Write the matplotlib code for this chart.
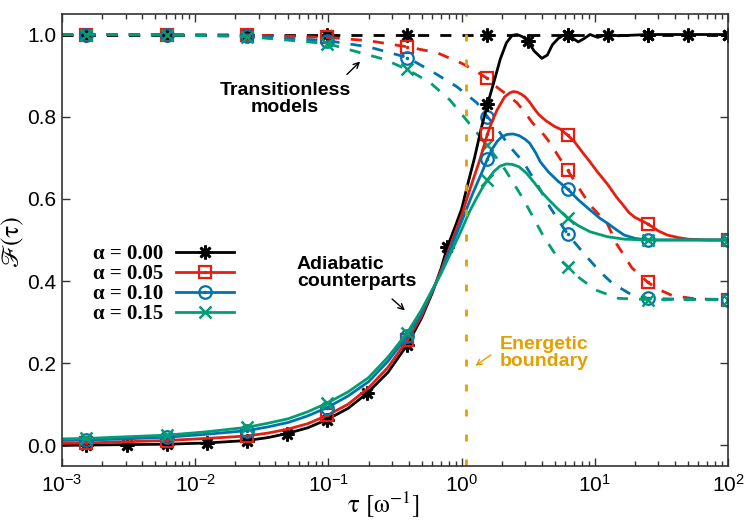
import numpy as np
import matplotlib
matplotlib.use("Agg")
import matplotlib.pyplot as plt

# tau values where markers sit (every factor of 4, black solid every factor of 2)
tau_marks = [0.001526, 0.006104, 0.02441, 0.09766, 0.3906, 1.5625, 6.25, 25, 100]
tau_marks_black = [0.001526, 0.003052, 0.006104, 0.01221, 0.02441, 0.04883, 0.09766,
                   0.1953, 0.3906, 0.7813, 1.5625, 3.125, 6.25, 12.5, 25, 50, 100]

# full dynamics (solid)
tau_k = [0.001, 0.001526, 0.003052, 0.006104, 0.01221, 0.02441, 0.035, 0.04883, 0.07,
         0.09766, 0.14, 0.1953, 0.28, 0.3906, 0.5, 0.6, 0.7, 0.7813, 0.9, 1.0, 1.1, 1.25,
         1.4, 1.5625, 1.75, 1.95, 2.17, 2.4, 2.6, 2.85, 3.125, 3.5, 4.0, 4.4, 4.8, 5.3, 5.8,
         6.25, 6.9, 7.5, 8.3, 9.2, 10.5, 11.5, 12.5, 15, 18, 25, 50, 100]
F_k = [0.0, 0.001, 0.002, 0.003, 0.006, 0.012, 0.019, 0.029, 0.043,
       0.063, 0.09, 0.127, 0.178, 0.245, 0.31, 0.37, 0.43, 0.483, 0.535, 0.575, 0.63, 0.70,
       0.77, 0.83, 0.885, 0.94, 0.98, 0.998, 1.0, 0.995, 0.985, 0.96, 0.942, 0.95, 0.975,
       0.99, 0.998, 1.0, 0.99, 0.982, 0.99, 1.0, 0.993, 0.997, 1.0, 0.997, 0.998, 1.0,
       1.0, 1.0]

tau_r = [0.001, 0.001526, 0.003, 0.006104, 0.012, 0.02441, 0.035, 0.05, 0.07, 0.09766,
         0.14, 0.2, 0.28, 0.3906, 0.5, 0.6, 0.7, 0.78, 0.9, 1.0, 1.2, 1.37, 1.5625, 1.7,
         1.85, 2.1, 2.3, 2.44, 2.6, 2.8, 3.0, 3.25, 3.5, 3.8, 4.3, 5.0, 5.5, 6.25, 7.0, 8.0,
         9.2, 10.5, 12.5, 14.5, 16.3, 18, 20, 25, 30, 35, 42, 50, 70, 100]
F_r = [0.005, 0.006, 0.009, 0.012, 0.017, 0.023, 0.03, 0.04, 0.053, 0.073,
       0.1, 0.14, 0.19, 0.256, 0.315, 0.373, 0.425, 0.465, 0.52, 0.56, 0.64, 0.695, 0.758,
       0.79, 0.817, 0.848, 0.858, 0.861, 0.86, 0.855, 0.848, 0.835, 0.82, 0.805, 0.79,
       0.776, 0.77, 0.755, 0.74, 0.715, 0.69, 0.665, 0.635, 0.605, 0.585, 0.567, 0.555,
       0.539, 0.522, 0.512, 0.506, 0.502, 0.5, 0.5]

tau_b = [0.001, 0.001526, 0.003, 0.006104, 0.012, 0.02441, 0.035, 0.05, 0.07, 0.09766,
         0.14, 0.2, 0.28, 0.3906, 0.5, 0.6, 0.7, 0.78, 1.0, 1.2, 1.4, 1.5625, 1.7, 1.85,
         2.0, 2.2, 2.44, 2.7, 3.0, 3.25, 3.6, 3.9, 4.5, 5.3, 6.25, 7.5, 9.2, 11, 12.4, 14.5,
         16.6, 20, 25, 100]
F_b = [0.012, 0.013, 0.016, 0.02, 0.027, 0.036, 0.045, 0.056, 0.072, 0.092,
       0.12, 0.155, 0.205, 0.266, 0.322, 0.376, 0.42, 0.46, 0.545, 0.61, 0.66, 0.697,
       0.722, 0.74, 0.751, 0.757, 0.758, 0.754, 0.745, 0.735, 0.712, 0.69, 0.665, 0.643,
       0.624, 0.598, 0.573, 0.552, 0.541, 0.525, 0.512, 0.504, 0.5, 0.5]

tau_g = [0.001, 0.001526, 0.003, 0.006104, 0.012, 0.02441, 0.035, 0.05, 0.07, 0.09766,
         0.14, 0.2, 0.28, 0.3906, 0.5, 0.6, 0.7, 0.78, 1.0, 1.15, 1.3, 1.45, 1.5625, 1.75,
         1.95, 2.17, 2.4, 2.7, 3.06, 3.5, 3.9, 4.6, 5.3, 6.25, 7.5, 9.2, 12.4, 16.6, 25, 100]
F_g = [0.016, 0.017, 0.021, 0.025, 0.033, 0.044, 0.054, 0.065, 0.082, 0.103,
       0.13, 0.165, 0.215, 0.274, 0.33, 0.378, 0.418, 0.45, 0.525, 0.57, 0.603, 0.63,
       0.646, 0.667, 0.68, 0.685, 0.684, 0.678, 0.663, 0.64, 0.62, 0.595, 0.575, 0.553,
       0.535, 0.52, 0.508, 0.502, 0.5, 0.5]

# transitionless models (dashed)
tau_kd = [0.001, 0.001526, 0.006104, 0.02441, 0.09766, 0.3906, 1.5625, 6.25, 25, 100]
F_kd = [1.0, 1.0, 1.0, 1.0, 1.0, 1.0, 1.0, 1.0, 1.0, 1.0]

tau_rd = [0.001, 0.001526, 0.006104, 0.02441, 0.09766, 0.2, 0.3906, 0.65, 1.0, 1.25,
          1.5625, 1.87, 2.2, 2.6, 3.0, 3.4, 4.0, 4.6, 5.3, 6.25, 7.3, 9.2, 12.4, 14.6, 19,
          25, 30, 38, 53, 70, 100]
F_rd = [1.0, 1.0, 1.0, 0.999, 0.993, 0.985, 0.97, 0.956, 0.93, 0.913,
        0.893, 0.87, 0.853, 0.834, 0.81, 0.785, 0.762, 0.737, 0.705, 0.67, 0.635, 0.585,
        0.54, 0.49, 0.432, 0.397, 0.38, 0.365, 0.358, 0.356, 0.355]

tau_bd = [0.001, 0.001526, 0.006104, 0.02441, 0.09766, 0.2, 0.3906, 0.6, 0.92, 1.3,
          1.5625, 1.8, 2.3, 2.9, 3.7, 4.6, 6.25, 8.7, 11, 13.5, 19, 25, 40, 100]
F_bd = [1.0, 1.0, 0.999, 0.997, 0.985, 0.97, 0.944, 0.91, 0.873, 0.834,
        0.80, 0.776, 0.727, 0.69, 0.635, 0.58, 0.514, 0.459, 0.422, 0.395, 0.366, 0.358,
        0.356, 0.355]

tau_gd = [0.001, 0.001526, 0.006104, 0.02441, 0.09766, 0.26, 0.3906, 0.58, 0.82, 1.08,
          1.5625, 2.13, 2.9, 4.1, 5.2, 6.25, 7.7, 10.2, 15, 25, 100]
F_gd = [1.0, 1.0, 0.999, 0.995, 0.978, 0.94, 0.915, 0.883, 0.84, 0.793,
        0.73, 0.67, 0.6, 0.51, 0.459, 0.435, 0.407, 0.378, 0.358, 0.355, 0.355]

tau_boundary = 1.08
labels = ["α = 0.00", "α = 0.05", "α = 0.10", "α = 0.15"]

BLACK, RED, BLUE, GREEN, ORANGE = "black", "#E51E10", "#0072B2", "#009E73", "#E69F00"


def marks(tau, sel):
    return [i for i, t in enumerate(tau) if np.any(np.isclose(t, sel, rtol=2e-3))]


plt.rcParams["font.family"] = ["Liberation Sans", "DejaVu Sans"]
plt.rcParams["mathtext.fontset"] = "stix"
fig = plt.figure(figsize=(7.5, 5.25), dpi=100)
ax = fig.add_axes([0.0827, 0.1124, 0.888, 0.861])

dash = (4, 4)
lw = 2
mk = dict(ms=9, mew=1.6, mfc="none")

# dashed transitionless curves
ax.plot(tau_kd, F_kd, color=BLACK, lw=lw, dashes=dash, marker=(8, 2, 0), ms=10, mew=1.9,
        markevery=marks(tau_kd, tau_marks))
ax.plot(tau_rd, F_rd, color=RED, lw=lw, dashes=dash, marker="s",
        markevery=marks(tau_rd, tau_marks), **mk)
ax.plot(tau_rd, F_rd, ls="none", color=RED, marker=".", ms=3, markevery=marks(tau_rd, tau_marks))
ax.plot(tau_bd, F_bd, color=BLUE, lw=lw, dashes=dash, marker="o",
        markevery=marks(tau_bd, tau_marks), **mk)
ax.plot(tau_bd, F_bd, ls="none", color=BLUE, marker=".", ms=3, markevery=marks(tau_bd, tau_marks))
ax.plot(tau_gd, F_gd, color=GREEN, lw=lw, dashes=dash, marker="x", ms=9, mew=1.8,
        markevery=marks(tau_gd, tau_marks))

# solid curves
hk, = ax.plot(tau_k, F_k, color=BLACK, lw=lw, marker=(8, 2, 0), ms=10, mew=1.9,
              markevery=marks(tau_k, tau_marks_black))
hr, = ax.plot(tau_r, F_r, color=RED, lw=lw, marker="s", markevery=marks(tau_r, tau_marks), **mk)
hr2, = ax.plot(tau_r, F_r, ls="none", color=RED, marker=".", ms=3, markevery=marks(tau_r, tau_marks))
hb, = ax.plot(tau_b, F_b, color=BLUE, lw=lw, marker="o", markevery=marks(tau_b, tau_marks), **mk)
hb2, = ax.plot(tau_b, F_b, ls="none", color=BLUE, marker=".", ms=3, markevery=marks(tau_b, tau_marks))
hg, = ax.plot(tau_g, F_g, color=GREEN, lw=lw, marker="x", ms=9, mew=1.8,
              markevery=marks(tau_g, tau_marks))

ax.axvline(tau_boundary, color=ORANGE, lw=2, dashes=(2.5, 6.5))

ax.set_xscale("log")
ax.set_xlim(1e-3, 1e2)
ax.set_ylim(-0.05, 1.05)
ax.set_yticks([0.0, 0.2, 0.4, 0.6, 0.8, 1.0])
ax.set_yticklabels(["0.0", "0.2", "0.4", "0.6", "0.8", "1.0"])
ax.tick_params(which="both", direction="in", top=True, right=True, labelsize=15,
               color="#333333", width=1)
ax.tick_params(which="major", length=6, pad=6)
ax.tick_params(which="minor", length=3.5)
ax.tick_params(axis="y", pad=4)
for s in ax.spines.values():
    s.set_linewidth(1.2)
    s.set_color("#333333")

ax.set_xlabel("τ [ω$^{-1}$]", family="STIXGeneral", fontsize=18)
ax.xaxis.set_label_coords(0.482, -0.052)
ax.set_ylabel("ℱ(τ)", family="STIXGeneral", fontsize=18, labelpad=2)

leg = ax.legend([hk, (hr, hr2), (hb, hb2), hg], labels, loc="upper left",
                bbox_to_anchor=(0.0465, 0.49), frameon=False, markerfirst=False,
                prop=dict(family="Liberation Serif", weight="bold", size=15),
                handlelength=2.8, handletextpad=0.6, labelspacing=0.0,
                borderpad=0, borderaxespad=0)

# annotations
ax.text(0.0472, 0.843, "Transitionless\nmodels", ha="center", va="center",
        fontsize=14, fontweight="bold", linespacing=1.05)
ax.annotate("", xy=(0.179, 0.939), xytext=(0.133, 0.898),
            arrowprops=dict(arrowstyle="->", color=BLACK, lw=1))
ax.text(0.058, 0.42, "Adiabatic\ncounterparts", ha="left", va="center",
        fontsize=14, fontweight="bold", linespacing=1.05)
ax.annotate("", xy=(0.389, 0.324), xytext=(0.29, 0.361),
            arrowprops=dict(arrowstyle="->", color=BLACK, lw=1))
ax.text(1.94, 0.225, "Energetic\nboundary", ha="left", va="center", color=ORANGE,
        fontsize=14, fontweight="bold", linespacing=1.05)
ax.annotate("", xy=(1.22, 0.19), xytext=(1.72, 0.224),
            arrowprops=dict(arrowstyle="->", color=ORANGE, lw=1))

fig.savefig("out.png", dpi=100)
